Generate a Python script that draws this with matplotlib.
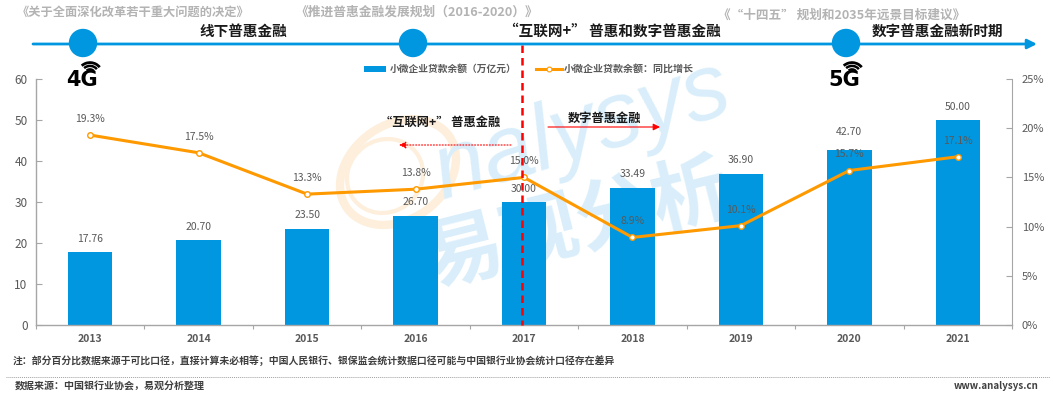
import numpy as np
from matplotlib import pyplot as plt
from matplotlib.patches import Arc, Ellipse, Circle

plt.rcParams['font.family'] = ['Noto Sans CJK SC', 'DejaVu Sans']

years = ['2013', '2014', '2015', '2016', '2017', '2018', '2019', '2020', '2021']
balance = [17.76, 20.70, 23.50, 26.70, 30.00, 33.49, 36.90, 42.70, 50.00]
growth = [19.3, 17.5, 13.3, 13.8, 15.0, 8.9, 10.1, 15.7, 17.1]

bar_label_dy = [6, 6, 6, 6, 6, 6, 6, 9, 6]

policies = ['《关于全面深化改革若干重大问题的决定》', '《推进普惠金融发展规划（2016-2020）》', '《“十四五” 规划和2035年远景目标建议》']
stages = ['线下普惠金融', '“互联网+” 普惠和数字普惠金融', '数字普惠金融新时期']

BLUE = '#0097e0'
ORANGE = '#ff9900'
GREY = '#595959'
AXIS = '#a6a6a6'
W, H = 1053, 395

fig = plt.figure(figsize=(W / 100, H / 100), dpi=100, facecolor='white')


def pixel_axes(zorder):
    a = fig.add_axes([0, 0, 1, 1], zorder=zorder)
    a.set_xlim(0, W)
    a.set_ylim(H, 0)
    a.axis('off')
    return a


bg = pixel_axes(0)
top = pixel_axes(3)

# watermark
bg.text(582, 132, 'nalysys', fontsize=66, color='#d9eefa', rotation=17, ha='center', va='center',
        style='italic', family='Liberation Sans')
bg.text(578, 225, '易观分析', fontsize=56, color='#d9eefa', rotation=14, ha='center', va='center', weight='bold')
bg.add_patch(Ellipse((398, 172), 125, 95, angle=-35, fill=False, ec='#fdefdc', lw=6))
bg.add_patch(Ellipse((385, 176), 78, 72, angle=-35, fill=False, ec='#fdefdc', lw=3))

# main chart
ax = fig.add_axes([36 / W, 1 - 325 / H, 976 / W, 246 / H], zorder=1)
ax.patch.set_alpha(0)
x = np.arange(len(years))
ax.bar(x, balance, width=0.41, color=BLUE)
ax.set_xlim(-0.5, 8.5)
ax.set_ylim(0, 60)
ax.set_xticks(np.arange(-0.5, 9, 1))
ax.set_xticklabels([])
ax.set_yticks(range(0, 61, 10))
ax.tick_params(axis='y', direction='in', length=4, color=AXIS, width=0.8, labelsize=8.5, labelcolor=GREY, pad=6)
ax.tick_params(axis='x', direction='out', length=3, color=AXIS, width=0.8)
for s in ['top', 'right']:
    ax.spines[s].set_visible(False)
for s in ['left', 'bottom']:
    ax.spines[s].set_color(AXIS)
    ax.spines[s].set_linewidth(1.0)
for i, v in enumerate(balance):
    ax.annotate('%.2f' % v, (i, v), xytext=(0, bar_label_dy[i]), textcoords='offset points', ha='center', va='bottom',
                fontsize=7.5, color=GREY)
    ax.annotate(years[i], (i, 0), xytext=(0, -10), textcoords='offset points', ha='center', va='center',
                fontsize=7.5, color=GREY, weight='bold', annotation_clip=False)

ax2 = ax.twinx()
ax2.patch.set_alpha(0)
ax2.set_zorder(2)
ax2.plot(x, growth, color=ORANGE, lw=2.2, marker='o', ms=4, mfc='white', mec=ORANGE, mew=1)
ax2.set_ylim(0, 25)
ax2.set_yticks(range(0, 26, 5))
ax2.set_yticklabels(['%d%%' % t for t in range(0, 26, 5)])
ax2.tick_params(axis='y', direction='in', length=4, color=AXIS, width=0.8, labelsize=8, labelcolor=GREY, pad=7)
for s in ['top', 'left', 'bottom']:
    ax2.spines[s].set_visible(False)
ax2.spines['right'].set_color(AXIS)
for i, v in enumerate(growth):
    ax2.annotate('%.1f%%' % v, (i, v), xytext=(0, 8), textcoords='offset points', ha='center',
                 va='bottom', fontsize=7.5, color=GREY)

# timeline
top.annotate('', xy=(1037, 44), xytext=(33, 44), arrowprops=dict(arrowstyle='-|>', color=BLUE, lw=2, shrinkA=0, shrinkB=0, mutation_scale=14))
for cx in [83, 413, 846]:
    top.add_patch(Circle((cx, 43), 13.5, color=BLUE, zorder=4))
for px, py, s, fs in zip([133, 417, 842], [12, 12, 15], policies, [8.8, 9.2, 9.1]):
    top.text(px, py, s, fontsize=fs, color='#b3b3b3', ha='center', va='center', weight='bold')
for px, s in zip([243, 612, 937], stages):
    top.text(px, 31, s, fontsize=10.5, color='#1a1a1a', ha='center', va='center', weight='bold')

# 4G / 5G badges
for cx, s in zip([82, 844], ['4G', '5G']):
    top.text(cx, 80, s, fontsize=15, color='black', weight='bold', ha='center', va='center', family='DejaVu Sans')
    for d, lw in zip([10, 17, 24], [1.6, 1.8, 2]):
        top.add_patch(Arc((cx + 8, 74), d, d * 0.95, theta1=225, theta2=325, color='black', lw=lw))

# legend
top.fill_between([364, 386], 66, 72, color=BLUE, lw=0)
top.text(390, 68.5, '小微企业贷款余额（万亿元）', fontsize=7, color=GREY, va='center', weight='bold')
top.plot([536, 562], [69, 69], color=ORANGE, lw=2.2)
top.plot([549], [69], 'o', ms=3.5, mfc='white', mec=ORANGE, mew=0.8)
top.text(564, 68.5, '小微企业贷款余额：同比增长', fontsize=7.2, color=GREY, va='center', weight='bold')

# divider and stage notes
top.plot([522, 522], [45, 325], color='#ff0000', lw=1.8, ls=(0, (3, 2)))
top.text(440, 122, '“互联网+” 普惠金融', fontsize=8.8, color='#1a1a1a', ha='center', va='center', weight='bold')
top.annotate('', xy=(399, 145), xytext=(511, 145), arrowprops=dict(arrowstyle='-|>', color='red', lw=0.8, ls=':', shrinkA=0, shrinkB=0))
top.text(604, 118, '数字普惠金融', fontsize=8.8, color='#1a1a1a', ha='center', va='center', weight='bold')
top.annotate('', xy=(660, 127), xytext=(548, 127), arrowprops=dict(arrowstyle='-|>', color='red', lw=0.8, shrinkA=0, shrinkB=0))

# footer
top.text(13, 361, '注：部分百分比数据来源于可比口径，直接计算未必相等；中国人民银行、银保监会统计数据口径可能与中国银行业协会统计口径存在差异',
         fontsize=7.1, color='#404040', va='center', weight='bold')
top.plot([6, 1050], [377, 377], color='#a0a0a0', lw=0.7, ls=(0, (1, 1)))
top.text(15, 386, '数据来源：中国银行业协会，易观分析整理', fontsize=7.2, color='#404040', va='center', weight='bold')
top.text(1039, 386, 'www.analysys.cn', fontsize=7, color='#404040', va='center', ha='right', weight='bold')

fig.savefig('out.png', dpi=100)
